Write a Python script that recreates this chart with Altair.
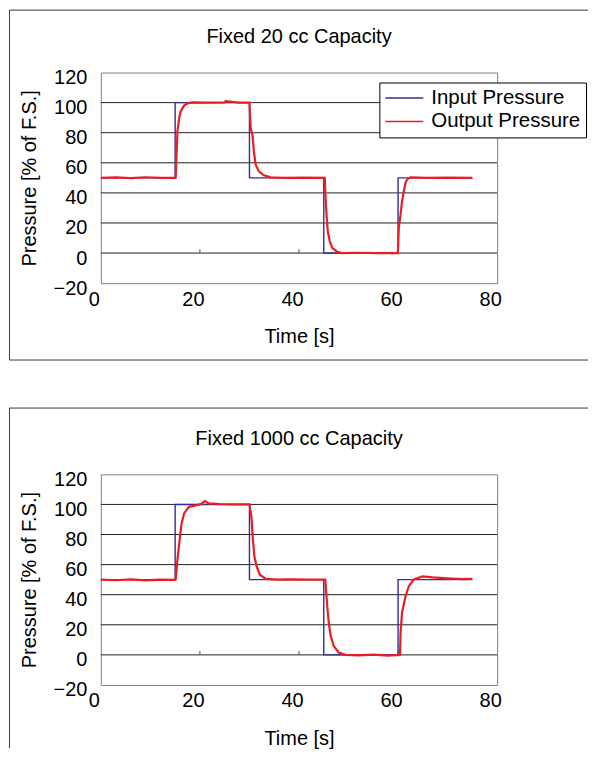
import altair as alt
import pandas as pd

FONT = "Liberation Sans"

# ---- axis / category data ----
x_ticks = [0, 20, 40, 60, 80]
y_ticks = [-20, 0, 20, 40, 60, 80, 100, 120]
grid_levels = [0, 20, 40, 60, 80, 100]
zero_ticks = [20, 40, 60]

series_names = ["Input Pressure", "Output Pressure"]
series_colors = ["#2e3192", "#ed1c24"]

panel_titles = ["Fixed 20 cc Capacity", "Fixed 1000 cc Capacity"]

# ---- input pressure (step command, same for both tests) ----
input_t = [0, 15, 30, 45, 60, 75]
input_p = [50, 100, 50, 0, 50, 50]

# ---- output pressure, 20 cc ----
out20_t = [0, 3, 6, 9, 12, 14.9, 15.1, 15.46, 15.8, 16.1, 16.8, 17.5, 18.5, 21, 25,
           25.2, 28, 30.0, 30.24, 30.6, 30.9, 31.25, 31.9, 32.9, 34.3, 37, 41, 45.2,
           45.4, 45.56, 45.8, 46.2, 46.7, 47.7, 48.7, 52, 56, 59.95, 60.15, 60.5,
           60.8, 61.15, 61.5, 61.8, 62.5, 66, 70, 75]
out20_p = [50, 50.3, 49.8, 50.4, 50, 50, 50, 80.8, 89.6, 94, 98, 99.5, 100.2, 100, 100.2,
           101, 100, 100, 83, 78.6, 67.5, 58.7, 54.3, 51.7, 50.3, 50, 50.2, 50,
           34, 25.6, 14.6, 8, 3.5, 0.9, 0, 0.2, 0, 0, 16.8, 25.6,
           34.4, 41, 46.6, 48.8, 50.3, 50, 50.2, 50]

# ---- output pressure, 1000 cc ----
out1000_t = [0, 3, 6, 9, 12, 14.9, 15.1, 15.46, 15.9, 16.3, 16.8, 17.8, 20.2, 21.0, 21.8,
             24, 27, 30.0, 30.4, 30.7, 31.0, 31.45, 32.1, 33.3, 35.6, 38, 42, 45.3,
             45.7, 46.0, 46.4, 47.0, 48.0, 49.4, 52, 55, 58, 60.4, 60.5, 60.8, 61.5,
             62.2, 63.2, 64.9, 67, 70, 73, 75]
out1000_p = [50, 49.6, 50.2, 49.5, 50, 49.8, 50, 63.2, 76.4, 87.4, 94, 98.4, 100.2, 102.2, 100.7,
             100.3, 100, 100, 91.8, 76.4, 65.4, 58.8, 53.3, 50.5, 50, 50.2, 50, 50,
             32.5, 21.5, 12.6, 6, 1.6, 0, -0.3, 0.2, -0.5, 0, 14.8, 28, 39,
             45.8, 50.2, 52.2, 51.5, 50.8, 50.3, 50.5]

W, H = 397, 211


def panel(title, out_t, out_p, frame_top, frame_bottom, draw_bottom):
    x_enc = alt.X("t:Q", scale=alt.Scale(domain=[0, 80], nice=False),
                  axis=alt.Axis(values=x_ticks, title="Time [s]", grid=False, ticks=False,
                                domain=False, labelPadding=6, labelOffset=-7,
                                labelFlush=False,
                                titleX=W / 2, titleY=59.7, titleBaseline="alphabetic",
                                titleAlign="center"))
    y_enc = alt.Y("p:Q", scale=alt.Scale(domain=[-20, 120], nice=False),
                  axis=alt.Axis(values=y_ticks, title="Pressure [% of F.S.]", grid=False,
                                ticks=False, domain=False, labelPadding=14, labelOffset=5,
                                labelFlush=False,
                                titleX=-71.7, titleY=H / 2, titleBaseline="middle",
                                titleAlign="center", titleAngle=-90))
    color = alt.Color("series:N", scale=alt.Scale(domain=series_names, range=series_colors),
                      legend=alt.Legend(title=None, orient="none", legendX=279, legendY=10,
                                        symbolType="M-1,0L3,0", symbolSize=361,
                                        symbolStrokeWidth=1.5, labelFont=FONT,
                                        labelFontSize=20.5, labelColor="black",
                                        labelOffset=26, padding=5, rowPadding=2.5,
                                        strokeColor="black", fillColor="white"))

    inp = pd.DataFrame({"t": input_t, "p": input_p, "series": series_names[0]})
    out = pd.DataFrame({"t": out_t, "p": out_p, "series": series_names[1]})
    grid = pd.DataFrame({"p": grid_levels})
    zt = pd.DataFrame({"t": zero_ticks, "p": [0] * len(zero_ticks), "p2": [2.6] * len(zero_ticks)})

    grid_layer = alt.Chart(grid).mark_rule(color="#222222", strokeWidth=1).encode(y=y_enc)
    tick_layer = alt.Chart(zt).mark_rule(color="#555555", strokeWidth=1).encode(
        x=x_enc, y=y_enc, y2="p2:Q")
    in_layer = alt.Chart(inp).mark_line(interpolate="step-after", strokeWidth=1.4).encode(
        x=x_enc, y=y_enc, color=color)
    out_layer = alt.Chart(out).mark_line(strokeWidth=2.2).encode(
        x=x_enc, y=y_enc, color=color)

    one = alt.Data(values=[{}])
    frame_col = "#3a3a3a"
    left = -91.5
    right = 488
    frame = [
        alt.Chart(one).mark_rule(color=frame_col, strokeWidth=1).encode(
            x=alt.value(left), x2=alt.value(right), y=alt.value(frame_top)),
        alt.Chart(one).mark_rule(color=frame_col, strokeWidth=1).encode(
            x=alt.value(left), y=alt.value(frame_top), y2=alt.value(frame_bottom)),
    ]
    if draw_bottom:
        frame.append(alt.Chart(one).mark_rule(color=frame_col, strokeWidth=1).encode(
            x=alt.value(left), x2=alt.value(right), y=alt.value(frame_bottom)))
    title_layer = alt.Chart(one).mark_text(
        font=FONT, fontSize=20, color="black", align="center", baseline="alphabetic"
    ).encode(x=alt.value(W / 2), y=alt.value(-29.3), text=alt.value(title))

    return alt.layer(grid_layer, tick_layer, in_layer, out_layer, *frame, title_layer).properties(
        width=W, height=H)


top = panel(panel_titles[0], out20_t, out20_p, -62.5, 288, True)
bottom = panel(panel_titles[1], out1000_t, out1000_p, -66.4, 274, False)

chart = alt.vconcat(top, bottom, spacing=45.5).properties(
    padding=0, background="white"
).configure_view(
    stroke="#808080", strokeWidth=1
).configure_axis(
    labelFont=FONT, labelFontSize=20, labelColor="black",
    titleFont=FONT, titleFontSize=20, titleFontWeight="normal", titleColor="black"
)

chart.save("out.html", embed_options={"renderer": "svg", "actions": False})
